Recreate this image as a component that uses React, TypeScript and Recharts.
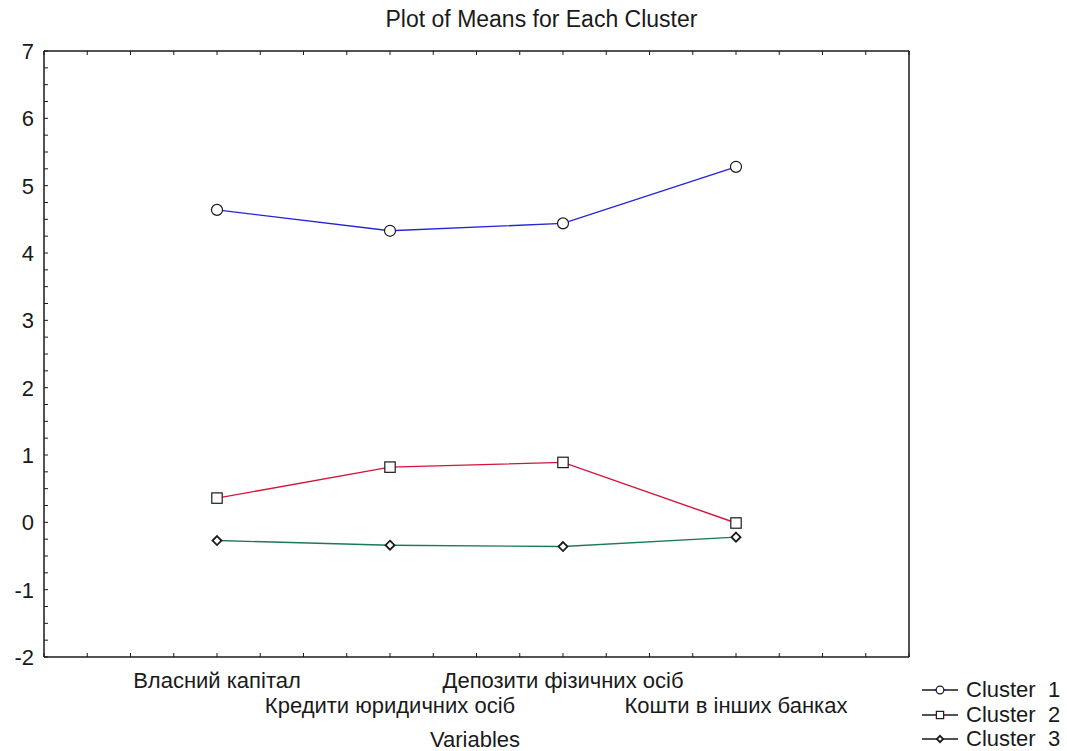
import { LineChart, Line, XAxis, YAxis } from 'recharts'

const categories = ['Власний капітал', 'Кредити юридичних осіб', 'Депозити фізичних осіб', 'Кошти в інших банках']
const cluster1 = [4.64, 4.33, 4.44, 5.28]
const cluster2 = [0.36, 0.82, 0.89, -0.01]
const cluster3 = [-0.27, -0.34, -0.36, -0.22]
const seriesNames = ['Cluster  1', 'Cluster  2', 'Cluster  3']
const yLabels = [-2, -1, 0, 1, 2, 3, 4, 5, 6, 7]

// minor ticks every quarter unit, like the original frame
const xTicks = Array.from({ length: 21 }, (_, i) => i * 0.25)
const yTicks = Array.from({ length: 37 }, (_, i) => -2 + i * 0.25)

const data = categories.map((name, i) => ({
  pos: i + 1,
  name,
  c1: cluster1[i],
  c2: cluster2[i],
  c3: cluster3[i],
}))

const FONT = '"Liberation Sans", Arial, sans-serif'
const INK = '#1a1a1a'
const colors = ['#2424d8', '#d4143c', '#1c7a50']
const shapes = ['circle', 'square', 'diamond'] as const

function Marker({ cx, cy, shape, size = 1 }: { cx: number; cy: number; shape: string; size?: number }) {
  if (shape === 'circle') return <circle cx={cx} cy={cy} r={5.5 * size} fill="#fff" stroke={INK} strokeWidth={1.2} />
  if (shape === 'square') {
    const h = 5.2 * size
    return <rect x={cx - h} y={cy - h} width={2 * h} height={2 * h} fill="#fff" stroke={INK} strokeWidth={1.2} />
  }
  const d = 4.5 * size
  return (
    <polygon
      points={`${cx},${cy - d} ${cx + d},${cy} ${cx},${cy + d} ${cx - d},${cy}`}
      fill="#fff"
      stroke={INK}
      strokeWidth={1.8}
    />
  )
}

const dotFor = (shape: string) => (p: any) => <Marker key={p.index} cx={p.cx} cy={p.cy} shape={shape} />

function BottomTick({ x, y, payload }: any) {
  const v = payload.value
  const idx = Math.round(v) - 1
  const isCat = Math.abs(v - Math.round(v)) < 1e-6 && idx >= 0 && idx < categories.length
  return (
    <g>
      <line x1={x} y1={y} x2={x} y2={y - 4} stroke={INK} />
      {isCat && (
        <text x={x} y={y + (idx % 2 === 0 ? 31 : 56)} textAnchor="middle" fontSize={22} fill={INK} fontFamily={FONT}>
          {categories[idx]}
        </text>
      )}
    </g>
  )
}

function TopTick({ x, y }: any) {
  return <line x1={x} y1={y} x2={x} y2={y + 4} stroke={INK} />
}

function LeftTick({ x, y, payload }: any) {
  const v = payload.value
  const isLabel = yLabels.includes(v)
  return (
    <g>
      <line x1={x} y1={y} x2={x + 4} y2={y} stroke={INK} />
      {isLabel && (
        <text x={x - 10} y={y} dy="0.36em" textAnchor="end" fontSize={22} fill={INK} fontFamily={FONT}>
          {v}
        </text>
      )}
    </g>
  )
}

function RightTick({ x, y }: any) {
  return <line x1={x} y1={y} x2={x - 4} y2={y} stroke={INK} />
}

export default function App() {
  return (
    <div style={{ position: 'absolute', left: 0, top: 0, width: 1067, height: 751, background: '#fff', fontFamily: FONT }}>
      <div style={{ position: 'absolute', left: 0, width: 1083, top: 6, textAlign: 'center', fontSize: 23, color: INK }}>
        Plot of Means for Each Cluster
      </div>
      <LineChart width={1067} height={751} data={data} margin={{ top: 50, left: 43, right: 157, bottom: 93 }}>
        <XAxis
          xAxisId="b"
          dataKey="pos"
          type="number"
          domain={[0, 5]}
          ticks={xTicks}
          interval={0}
          height={1}
          tickSize={0}
          tickMargin={0}
          tickLine={false}
          tick={<BottomTick />}
          stroke={INK}
          strokeWidth={1.5}
        />
        <XAxis
          xAxisId="t"
          orientation="top"
          dataKey="pos"
          type="number"
          domain={[0, 5]}
          ticks={xTicks}
          interval={0}
          height={1}
          tickSize={0}
          tickMargin={0}
          tickLine={false}
          tick={<TopTick />}
          stroke={INK}
          strokeWidth={1.5}
        />
        <YAxis
          yAxisId="l"
          type="number"
          domain={[-2, 7]}
          ticks={yTicks}
          interval={0}
          width={1}
          tickSize={0}
          tickMargin={0}
          tickLine={false}
          tick={<LeftTick />}
          stroke={INK}
          strokeWidth={1.5}
        />
        <YAxis
          yAxisId="r"
          orientation="right"
          type="number"
          domain={[-2, 7]}
          ticks={yTicks}
          interval={0}
          width={1}
          tickSize={0}
          tickMargin={0}
          tickLine={false}
          tick={<RightTick />}
          stroke={INK}
          strokeWidth={1.5}
        />
        {(['c1', 'c2', 'c3'] as const).map((key, i) => (
          <Line
            key={key}
            xAxisId="b"
            yAxisId="l"
            dataKey={key}
            name={seriesNames[i]}
            type="linear"
            stroke={colors[i]}
            strokeWidth={1.4}
            dot={dotFor(shapes[i])}
            isAnimationActive={false}
          />
        ))}
      </LineChart>
      <div style={{ position: 'absolute', left: 0, width: 950, top: 727, textAlign: 'center', fontSize: 22, color: INK }}>
        Variables
      </div>
      <div style={{ position: 'absolute', left: 920, top: 678 }}>
        {seriesNames.map((n, i) => (
          <div key={n} style={{ display: 'flex', alignItems: 'center', height: 24.5 }}>
            <svg width={42} height={20}>
              <line x1={2} y1={10} x2={38} y2={10} stroke={INK} strokeWidth={1.3} />
              <line x1={14} y1={10} x2={26} y2={10} stroke={colors[i]} strokeWidth={1.3} />
              <Marker cx={20} cy={10} shape={shapes[i]} size={0.7} />
            </svg>
            <span style={{ fontSize: 22, color: INK, whiteSpace: 'pre', marginLeft: 4 }}>{n}</span>
          </div>
        ))}
      </div>
    </div>
  )
}
